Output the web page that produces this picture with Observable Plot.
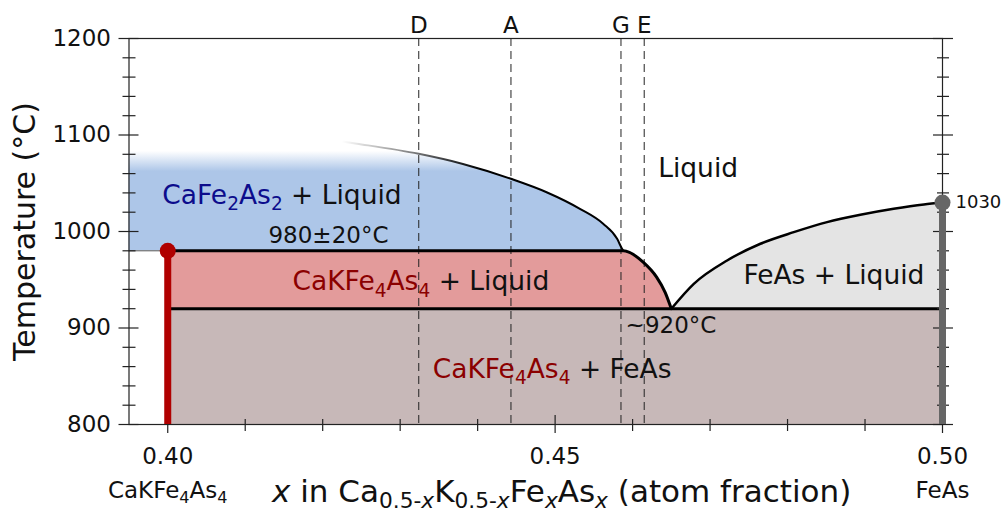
<!DOCTYPE html>
<html><head><meta charset="utf-8">
<script src="https://cdn.jsdelivr.net/npm/d3@7"></script>
<script src="https://cdn.jsdelivr.net/npm/@observablehq/plot@0.6"></script>
<style>body{margin:0;background:#fff;} svg{display:block}</style>
</head><body><div id="chart"></div>
<script>
// ---------------- data ----------------
const xDomain = [0.395, 0.50];
const yDomain = [800, 1200];
const yTicksMajor = [800, 900, 1000, 1100, 1200];
const yTicksMinor = [820, 840, 860, 880, 920, 940, 960, 980, 1020, 1040, 1060, 1080, 1120, 1140, 1160, 1180];
const xTicksMajor = [0.40, 0.45, 0.50];
const xTicksMinor = [0.41, 0.42, 0.43, 0.44, 0.46, 0.47, 0.48, 0.49];

const compoundNames = ["CaKFe4As4", "FeAs"];
const compoundX = [0.40, 0.50];
const compoundMeltT = [980, 1030];
const peritecticT = 980;
const eutecticT = 920;

// liquidus of CaFe2As2 (upper left, faded)
const liqCaFe2As2X = [0.395, 0.410, 0.4244, 0.4324, 0.4381, 0.4443, 0.4489, 0.4532, 0.4562, 0.4580, 0.4586, 0.4588];
const liqCaFe2As2T = [1120, 1106, 1091, 1080.5, 1070, 1054.6, 1040.7, 1023.5, 1008, 992.4, 982.7, 980];
// liquidus of CaKFe4As4 (peritectic to eutectic)
const liqCaKX = [0.4588, 0.4614, 0.4631, 0.4642, 0.4650];
const liqCaKT = [980, 968, 952.7, 937, 920];
// liquidus of FeAs
const liqFeAsX = [0.4650, 0.4679, 0.4722, 0.4765, 0.4808, 0.4851, 0.4894, 0.4937, 0.4976, 0.50];
const liqFeAsT = [920, 945.8, 970, 987.3, 999.3, 1009.7, 1017.3, 1023.5, 1028, 1030];

const sampleNames = ["D", "A", "G", "E"];
const sampleX = [0.4324, 0.4443, 0.4585, 0.4615];

// ---------------- styles ----------------
const COL = {
  blue: "#adc6e8", red: "#e39b9b", solid: "#c7b8b8", feas: "#e4e4e4",
  redBar: "#b00000", greyBar: "#666666", navy: "#0c0c8c", maroon: "#8b0000", ink: "#111111"
};
const FONT = "DejaVu Sans, Verdana, sans-serif";
const FS = {tick: 23, region: 26.5, note: 23, small: 18, xtitle: 31, ytitle: 30};

// ---------------- derived tables ----------------
const zip = (X, T) => X.map((x, i) => ({x, t: T[i]}));
const upperLiq = zip(liqCaFe2As2X, liqCaFe2As2T);
const redBoundary = [{x: compoundX[0], t: peritecticT}, ...zip(liqCaKX, liqCaKT)];
const feasLiq = zip(liqFeAsX, liqFeAsT);
const compounds = compoundNames.map((name, i) => ({name, x: compoundX[i], t: compoundMeltT[i]}));
const samples = sampleNames.map((name, i) => ({name, x: sampleX[i]}));

// rich text definitions (real text, rendered with tspans)
const rich = {
  cafe: [{t: "CaFe", fill: COL.navy}, {t: "2", fill: COL.navy, sub: true}, {t: "As", fill: COL.navy}, {t: "2", fill: COL.navy, sub: true}, {t: " + Liquid"}],
  cakliq: [{t: "CaKFe", fill: COL.maroon}, {t: "4", fill: COL.maroon, sub: true}, {t: "As", fill: COL.maroon}, {t: "4", fill: COL.maroon, sub: true}, {t: " + Liquid"}],
  cakfeas: [{t: "CaKFe", fill: COL.maroon}, {t: "4", fill: COL.maroon, sub: true}, {t: "As", fill: COL.maroon}, {t: "4", fill: COL.maroon, sub: true}, {t: " + FeAs"}],
  cak: [{t: "CaKFe"}, {t: "4", sub: true}, {t: "As"}, {t: "4", sub: true}],
  xtitle: [{t: "x", italic: true}, {t: " in Ca"}, {t: "0.5-", sub: true}, {t: "x", sub: true, italic: true}, {t: "K"}, {t: "0.5-", sub: true}, {t: "x", sub: true, italic: true}, {t: "Fe"}, {t: "x", sub: true, italic: true}, {t: "As"}, {t: "x", sub: true, italic: true}, {t: " (atom fraction)"}]
};
const plain = id => rich[id].map(p => p.t).join("");

const tickStyle = {stroke: "#222", strokeWidth: 1.2, tickFormat: () => "", label: null};

const svg = Plot.plot({
  width: 1002, height: 513,
  marginTop: 38, marginBottom: 89, marginLeft: 128.5, marginRight: 60,
  x: {domain: xDomain, axis: null, label: null},
  y: {domain: yDomain, axis: null, label: null},
  style: {fontFamily: FONT, background: "white", color: COL.ink},
  marks: [
    // phase fields
    Plot.rect([0], {x1: compoundX[0], x2: compoundX[1], y1: yDomain[0], y2: eutecticT, fill: COL.solid}),
    Plot.areaY(redBoundary, {x: "x", y1: eutecticT, y2: "t", fill: COL.red, curve: "monotone-x"}),
    Plot.areaY(feasLiq, {x: "x", y1: eutecticT, y2: "t", fill: COL.feas, curve: "monotone-x"}),
    Plot.areaY(upperLiq, {x: "x", y1: peritecticT, y2: "t", fill: "url(#blueFade)", curve: "monotone-x"}),
    // sample composition lines
    Plot.ruleX(samples, {x: "x", stroke: "#222", strokeWidth: 1, strokeDasharray: "8,5"}),
    // boundaries
    Plot.ruleY([peritecticT], {x1: xDomain[0], x2: compoundX[0], stroke: "#555", strokeWidth: 1}),
    Plot.line(upperLiq, {x: "x", y: "t", stroke: "url(#lineFade)", strokeWidth: 2, curve: "monotone-x"}),
    Plot.line(redBoundary, {x: "x", y: "t", stroke: "black", strokeWidth: 3, curve: "monotone-x"}),
    Plot.ruleY([eutecticT], {x1: compoundX[0], x2: compoundX[1], stroke: "black", strokeWidth: 3}),
    Plot.line(feasLiq, {x: "x", y: "t", stroke: "black", strokeWidth: 2.5, curve: "monotone-x"}),
    // frame & ticks
    Plot.frame({stroke: "#222", strokeWidth: 1.2}),
    Plot.axisY(yTicksMajor, {anchor: "left", tickSize: 20, dx: 10, ...tickStyle}),
    Plot.axisY(yTicksMinor, {anchor: "left", tickSize: 13, dx: 7, ...tickStyle}),
    Plot.axisY(yTicksMajor, {anchor: "right", tickSize: 20, dx: -10, ...tickStyle}),
    Plot.axisY(yTicksMinor, {anchor: "right", tickSize: 12, dx: -6, ...tickStyle}),
    Plot.axisX(xTicksMajor, {anchor: "bottom", tickSize: 18, dy: -9, ...tickStyle}),
    Plot.axisX(xTicksMinor, {anchor: "bottom", tickSize: 12, dy: -5, ...tickStyle}),
    Plot.axisY(yTicksMajor, {anchor: "left", tickSize: 0, tickPadding: 18, fontSize: FS.tick, tickFormat: d3.format("d"), label: null, fill: COL.ink}),
    Plot.axisX(xTicksMajor, {anchor: "bottom", tickSize: 0, tickPadding: 23, fontSize: FS.tick, tickFormat: d3.format(".2f"), label: null, fill: COL.ink}),
    // compound bars
    Plot.ruleX(compounds, {x: "x", y1: yDomain[0], y2: "t", stroke: d => d.name === "FeAs" ? COL.greyBar : COL.redBar, strokeWidth: 7}),
    Plot.dot(compounds, {x: "x", y: "t", r: 8, fill: d => d.name === "FeAs" ? COL.greyBar : COL.redBar, stroke: null}),
    Plot.text(compounds.filter(d => d.name === "FeAs"), {x: "x", y: "t", text: d => String(d.t), textAnchor: "start", dx: 13, fontSize: FS.small, fill: COL.ink}),
    // compound names under axis
    Plot.text(compounds.filter(d => d.name !== "FeAs"), {x: "x", text: () => plain("cak"), frameAnchor: "bottom", textAnchor: "middle", lineAnchor: "bottom", dy: 73, fontSize: FS.tick, fill: COL.ink}),
    Plot.text(compounds.filter(d => d.name === "FeAs"), {x: "x", text: "name", frameAnchor: "bottom", textAnchor: "middle", lineAnchor: "bottom", dy: 73, fontSize: FS.tick, fill: COL.ink}),
    // sample letters
    Plot.text(samples, {x: "x", text: "name", frameAnchor: "top", textAnchor: "middle", lineAnchor: "bottom", dy: -6, fontSize: FS.tick, fill: COL.ink}),
    // region labels
    Plot.text([0], {x: 0.3993, y: 1029, text: () => plain("cafe"), textAnchor: "start", lineAnchor: "bottom", fontSize: FS.region, fill: COL.ink}),
    Plot.text([0], {x: 0.4161, y: 938.9, text: () => plain("cakliq"), textAnchor: "start", lineAnchor: "bottom", fontSize: FS.region, fill: COL.ink}),
    Plot.text([0], {x: 0.4342, y: 848.7, text: () => plain("cakfeas"), textAnchor: "start", lineAnchor: "bottom", fontSize: FS.region, fill: COL.ink}),
    Plot.text([0], {x: 0.4633, y: 1056, text: () => "Liquid", textAnchor: "start", lineAnchor: "bottom", fontSize: FS.region, fill: COL.ink}),
    Plot.text([0], {x: 0.4743, y: 946.1, text: () => "FeAs + Liquid", textAnchor: "start", lineAnchor: "bottom", fontSize: FS.region, fill: COL.ink}),
    Plot.text([0], {x: 0.4130, y: 987.6, text: () => "980±20°C", textAnchor: "start", lineAnchor: "bottom", fontSize: FS.note, fill: COL.ink}),
    Plot.text([0], {x: 0.4591, y: 895.3, text: () => "~920°C", textAnchor: "start", lineAnchor: "bottom", fontSize: FS.note, fill: COL.ink}),
    // axis titles
    Plot.text(["Temperature (°C)"], {text: d => d, frameAnchor: "left", textAnchor: "middle", lineAnchor: "middle", dx: -104, rotate: -90, fontSize: FS.ytitle, fill: COL.ink}),
    Plot.text([0], {text: () => plain("xtitle"), frameAnchor: "bottom-left", textAnchor: "start", lineAnchor: "bottom", dx: 143, dy: 77, fontSize: FS.xtitle, fill: COL.ink})
  ]
});

// gradients (positions derived from the plot's own scales)
const xs = svg.scale("x"), ys = svg.scale("y");
const defs = d3.select(svg).insert("defs", ":first-child");
const gb = defs.append("linearGradient").attr("id", "blueFade").attr("gradientUnits", "userSpaceOnUse")
  .attr("x1", 0).attr("x2", 0).attr("y1", ys.apply(1083)).attr("y2", ys.apply(1062));
gb.append("stop").attr("offset", 0).attr("stop-color", COL.blue).attr("stop-opacity", 0);
gb.append("stop").attr("offset", 1).attr("stop-color", COL.blue).attr("stop-opacity", 1);
const gl = defs.append("linearGradient").attr("id", "lineFade").attr("gradientUnits", "userSpaceOnUse")
  .attr("y1", 0).attr("y2", 0).attr("x1", xs.apply(0.4225)).attr("x2", xs.apply(0.4405));
gl.append("stop").attr("offset", 0).attr("stop-color", "black").attr("stop-opacity", 0);
gl.append("stop").attr("offset", 1).attr("stop-color", "black").attr("stop-opacity", 1);

// rich text: subscripts, colours, italics (found by their plain text)
function applyRich(id, fontSize, subShift = 0.24) {
  const target = plain(id);
  d3.select(svg).selectAll("text").filter(function () { return this.textContent === target; }).each(function () {
    const t = d3.select(this);
    t.text(null);
    let shift = 0;
    for (const p of rich[id]) {
      const s = t.append("tspan").text(p.t);
      const want = p.sub ? fontSize * subShift : 0;
      if (want !== shift) { s.attr("dy", want - shift); shift = want; }
      if (p.sub) s.attr("font-size", fontSize * 0.7);
      if (p.fill) s.attr("fill", p.fill);
      if (p.italic) s.attr("font-style", "italic");
    }
  });
}
applyRich("cafe", FS.region);
applyRich("cakliq", FS.region);
applyRich("cakfeas", FS.region);
applyRich("cak", FS.tick);
applyRich("xtitle", FS.xtitle, 0.2);

document.getElementById("chart").appendChild(svg);
</script></body></html>
